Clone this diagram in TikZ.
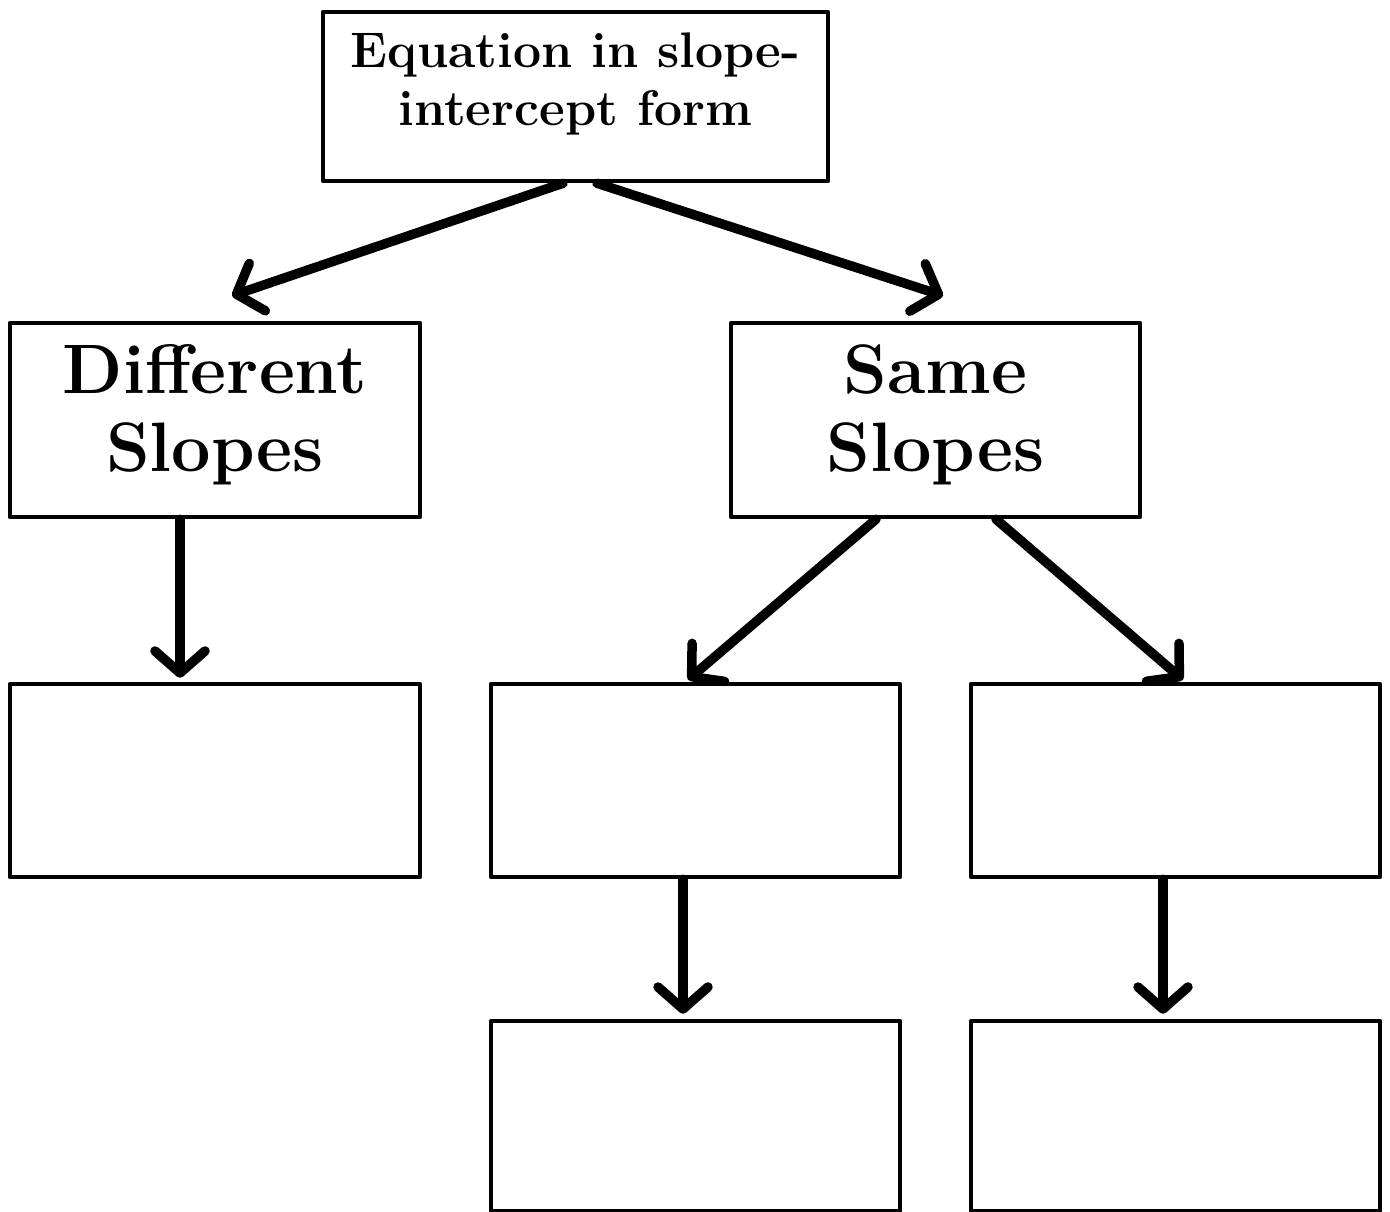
\documentclass[tikz,border=0pt]{standalone}
\usetikzlibrary{arrows.meta,calc}
\begin{document}
\begin{tikzpicture}[x=1pt,y=-1pt,
  box/.style={draw=black,line width=4.5pt,fill=white,inner sep=0pt,line join=round},
  label/.style={align=center,inner sep=0pt},
  conn/.style={line width=9.5pt,line cap=round,-{Straight Barb[length=22pt,width=50pt,line cap=round,line join=round]}}]
\useasboundingbox (0,0) rectangle (1390,1212);
\node[box,minimum width=505pt,minimum height=169pt] (top) at (575.5,96.5) {};
\node[label,font=\bfseries\fontsize{50}{58}\selectfont] (topt) at (575.5,84) {Equation in slope-\\intercept form};
\node[box,minimum width=410pt,minimum height=194pt] (diff) at (215,420) {};
\node[label,font=\bfseries\fontsize{70}{78}\selectfont] (difft) at (215,415) {Different\\Slopes};
\node[box,minimum width=409pt,minimum height=194pt] (same) at (935.5,420) {};
\node[label,font=\bfseries\fontsize{70}{78}\selectfont] (samet) at (935.5,415) {Same\\Slopes};
\node[box,minimum width=410pt,minimum height=193pt] (b1) at (215,780.5) {};
\node[box,minimum width=409pt,minimum height=193pt] (b2) at (695.5,780.5) {};
\node[box,minimum width=409pt,minimum height=193pt] (b3) at (1175.5,780.5) {};
\node[box,minimum width=409pt,minimum height=190pt] (b4) at (695.5,1116) {};
\node[box,minimum width=409pt,minimum height=190pt] (b5) at (1175.5,1116) {};
\draw[conn] ($(top.south)+(-12.5,0)$) -- ($(diff.north)+(17,-25)$);
\draw[conn] ($(top.south)+(21.5,0)$) -- ($(same.north)+(7.5,-25)$);
\draw[conn] ($(diff.south)+(-35,0)$) -- ($(b1.north)+(-35,-4)$);
\draw[conn] ($(same.south)+(-59.5,0)$) -- ($(b2.north)+(-7.5,-2)$);
\draw[conn] ($(same.south)+(60.5,0)$) -- ($(b3.north)+(7.5,-2)$);
\draw[conn] ($(b2.south)+(-12.5,0)$) -- ($(b4.north)+(-12.5,-5)$);
\draw[conn] ($(b3.south)+(-12.5,0)$) -- ($(b5.north)+(-12.5,-5)$);
\end{tikzpicture}
\end{document}
